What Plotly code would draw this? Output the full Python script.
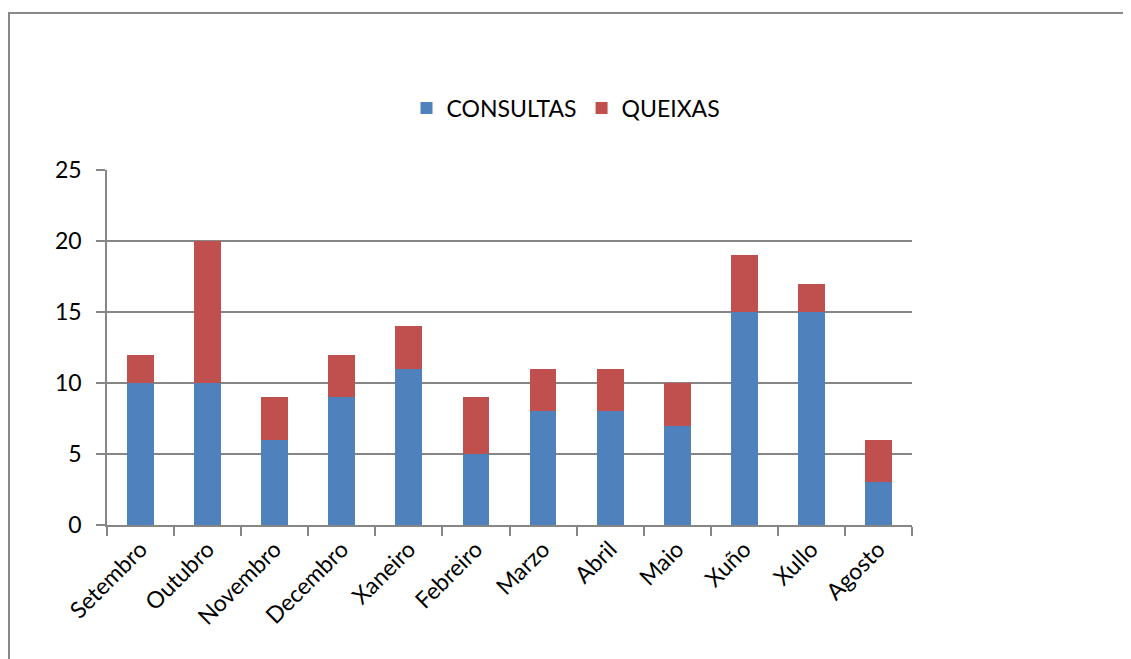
import plotly.graph_objects as go

months = ["Setembro", "Outubro", "Novembro", "Decembro", "Xaneiro", "Febreiro",
          "Marzo", "Abril", "Maio", "Xuño", "Xullo", "Agosto"]
consultas = [10, 10, 6, 9, 11, 5, 8, 8, 7, 15, 15, 3]
queixas = [2, 10, 3, 3, 3, 4, 3, 3, 3, 4, 2, 3]
y_ticks = [0, 5, 10, 15, 20, 25]

FONT = "Lato, 'Open Sans', sans-serif"
GRID = "#868686"

fig = go.Figure()
fig.add_trace(go.Bar(x=months, y=consultas, name="CONSULTAS",
                     marker=dict(color="#4F81BD", line=dict(width=0))))
fig.add_trace(go.Bar(x=months, y=queixas, name="QUEIXAS",
                     marker=dict(color="#C0504D", line=dict(width=0))))

OFF = 8  # default page body margin
W, H = 1131, 659
L = 107 - OFF
T = 170 - OFF
R = W - (912 - OFF)
B = H - (525 - OFF)
pw, ph = W - L - R, H - T - B

def px(xp):  # page x -> paper
    return (xp - OFF - L) / pw

def py(yp):  # page y -> paper
    return (H - B - (yp - OFF)) / ph

fig.update_layout(
    barmode="stack",
    bargap=0.6,
    width=W, height=H,
    margin=dict(l=L, r=R, t=T, b=B),
    paper_bgcolor="white",
    plot_bgcolor="white",
    font=dict(family=FONT, size=23, color="black"),
    showlegend=True,
    legend=dict(orientation="h", x=px(566), y=py(108),
                xanchor="center", yanchor="middle", font=dict(size=23),
                itemwidth=30, traceorder="normal", bgcolor="rgba(0,0,0,0)"),
    xaxis=dict(showline=True, linecolor=GRID, linewidth=1.5, ticks="outside",
               tickson="boundaries", ticklen=9, tickcolor=GRID, tickwidth=1.5,
               tickangle=-45, showgrid=False, tickfont=dict(size=23)),
    yaxis=dict(range=[0, 25], tickvals=y_ticks, showline=True, linecolor=GRID,
               linewidth=1.5, ticks="outside", ticklen=9, tickcolor=GRID,
               tickwidth=1.5, showgrid=True, gridcolor=GRID, gridwidth=1.5,
               zeroline=False, tickfont=dict(size=23), ticklabelstandoff=10),
    shapes=[dict(type="rect", xref="paper", yref="paper",
                 x0=px(9), x1=px(1130),
                 y0=py(720), y1=py(13),
                 line=dict(color="#898989", width=2), layer="below")],
)

fig.write_html("out.html")
